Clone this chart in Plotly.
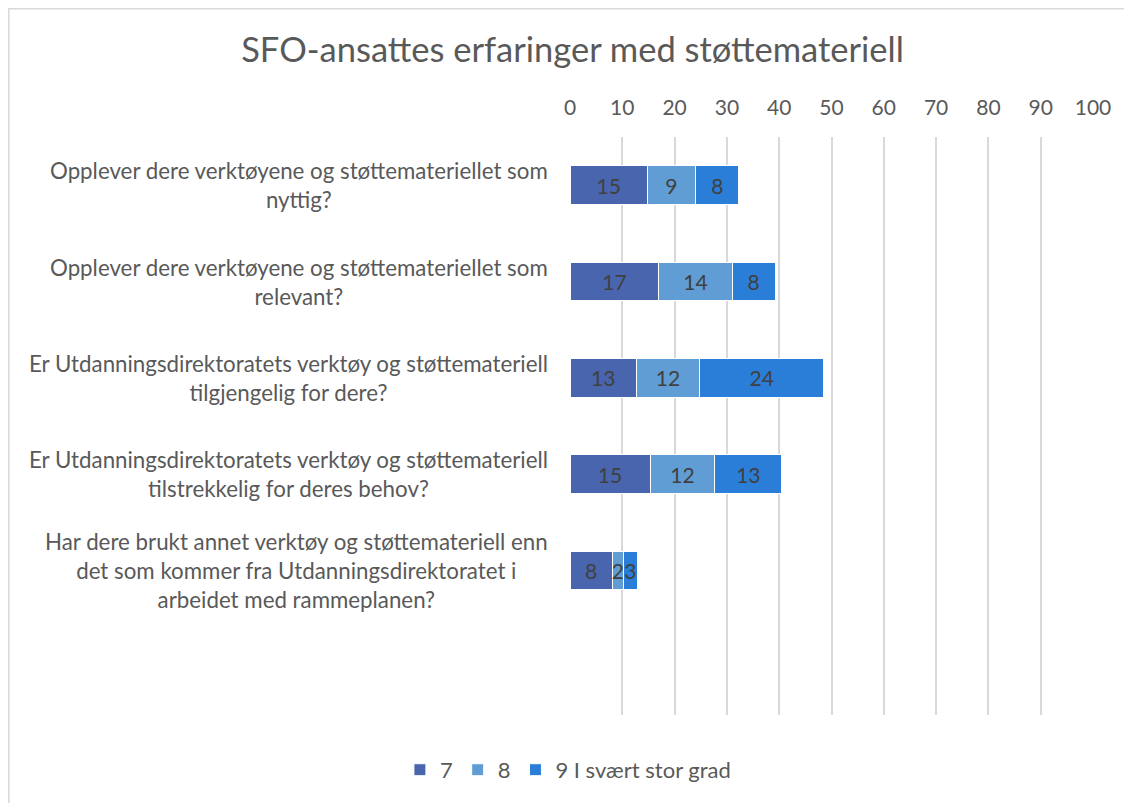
import plotly.graph_objects as go

# Data
questions = [
    "Opplever dere verktøyene og støttemateriellet som<br>nyttig?",
    "Opplever dere verktøyene og støttemateriellet som<br>relevant?",
    "Er Utdanningsdirektoratets verktøy og støttemateriell<br>tilgjengelig for dere?",
    "Er Utdanningsdirektoratets verktøy og støttemateriell<br>tilstrekkelig for deres behov?",
    "Har dere brukt annet verktøy og støttemateriell enn<br>det som kommer fra Utdanningsdirektoratet i<br>arbeidet med rammeplanen?",
]
series_names = ["7", "8", "9 I svært stor grad"]
val_7 = [14.8, 17.0, 12.7, 15.3, 8.1]
val_8 = [9.2, 14.0, 12.1, 12.4, 2.1]
val_9 = [8.3, 8.2, 23.7, 12.8, 2.7]
colors = ["#4865AD", "#5F9DD4", "#2B7ED7"]

cats = ["q%d" % i for i in range(len(questions))]

fig = go.Figure()
for name, vals, col in zip(series_names, [val_7, val_8, val_9], colors):
    fig.add_trace(go.Bar(
        y=cats, x=vals, name=name, orientation="h",
        marker=dict(color=col, line=dict(color="white", width=1)),
        width=0.4,
        texttemplate="%{x:.0f}", textposition="inside",
        insidetextanchor="middle", constraintext="none",
        textfont=dict(family="Lato", size=21, color="#404040"),
        hoverinfo="x+name",
    ))

# category labels, centred lines like the original
for c, q in zip(cats, questions):
    fig.add_annotation(
        x=0, xref="paper", y=c, yref="y", text=q, showarrow=False,
        xanchor="right", xshift=-20, align="center",
        font=dict(family="Lato", size=22.3, color="#595959"),
    )

# light frame around the chart
fig.add_shape(type="rect", xref="paper", yref="paper",
              x0=-1.073, x1=1.2, y0=-0.3, y1=1.222,
              line=dict(color="#D9D9D9", width=1.5), layer="below")

fig.update_layout(
    width=1132, height=803,
    margin=dict(l=562, r=47, t=129, b=96),
    paper_bgcolor="white", plot_bgcolor="white",
    barmode="stack",
    title=dict(text="SFO-ansattes erfaringer med støttemateriell",
               x=564.5 / 1132, xanchor="center", y=1 - 42 / 803, yanchor="middle",
               font=dict(family="Lato", size=34.5, color="#595959")),
    xaxis=dict(side="top", range=[0, 100], dtick=10, showgrid=True,
               gridcolor="#D9D9D9", gridwidth=1.5, zeroline=False,
               showline=False, ticklabelstandoff=17,
               tickfont=dict(family="Lato", size=21, color="#595959")),
    yaxis=dict(categoryorder="array", categoryarray=cats,
               range=[5.5, -0.5], showticklabels=False, showgrid=False,
               zeroline=False, showline=False),
    legend=dict(orientation="h", x=-0.004, xanchor="center",
                y=-0.095, yanchor="middle", traceorder="normal",
                font=dict(family="Lato", size=22, color="#595959"),
                itemwidth=30),
    showlegend=True,
)

fig.write_html("out.html")
